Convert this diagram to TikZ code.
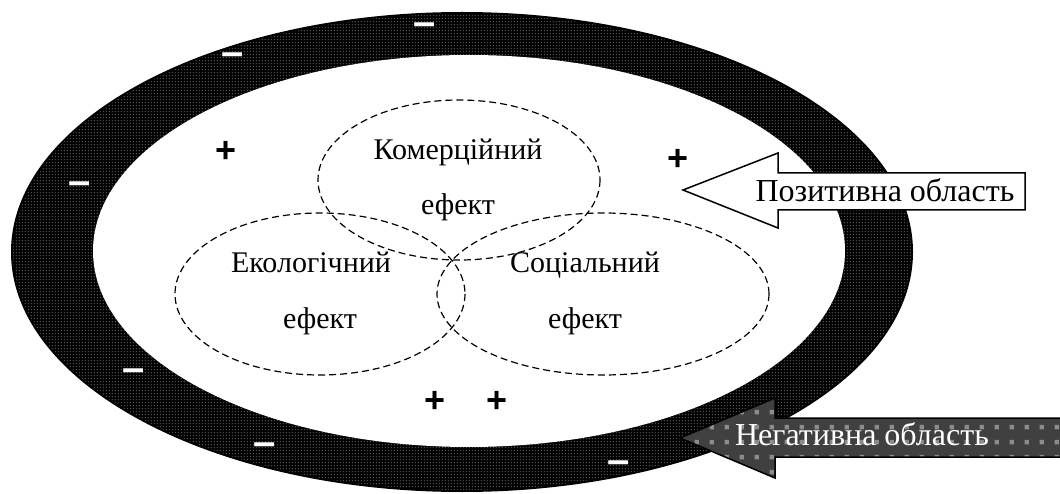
\documentclass[tikz,border=0pt]{standalone}
\usepackage{fontspec}
\setmainfont{Liberation Serif}
\newfontfamily\sansf{Liberation Sans}
\usetikzlibrary{patterns,patterns.meta}
\tikzdeclarepattern{name=sqdots,
  bottom left={(0pt,0pt)}, top right={(15pt,15pt)},
  tile size={(15pt,15pt)},
  code={\fill (5pt,5pt) rectangle (9.5pt,9.5pt);}}
\tikzdeclarepattern{name=finedots,
  bottom left={(0pt,0pt)}, top right={(3pt,3pt)},
  tile size={(3pt,3pt)},
  code={\fill (1pt,1pt) rectangle (2pt,2pt);}}
\definecolor{negfill}{HTML}{404040}
\definecolor{negdot}{HTML}{8C8C8C}
\begin{document}
\begin{tikzpicture}[x=1pt,y=-1pt,
  lbl/.style={font=\fontsize{30}{36}\selectfont, inner sep=0pt, anchor=base},
  arrowlbl/.style={font=\fontsize{32}{38}\selectfont, inner sep=0pt, anchor=base},
  effect/.style={draw, dash pattern=on 7pt off 4pt, line width=1.2pt},
  plussign/.style={font=\sansf\bfseries\fontsize{36}{36}\selectfont, inner sep=0pt},
  minussign/.style={font=\sansf\bfseries\fontsize{40}{40}\selectfont, text=white, inner sep=0pt},
  arrowshape/.style={line width=1.5pt, line join=miter}]
\useasboundingbox (0,0) rectangle (1060,494);
% outer negative band
\fill[black] (462,252) ellipse [x radius=451, y radius=240];
\fill[pattern=finedots, pattern color=gray!55] (462,252) ellipse [x radius=449, y radius=238];
\fill[white] (469,251) ellipse [x radius=376, y radius=196];
% effect ellipses
\draw[effect] (459,180) ellipse [x radius=141, y radius=80];
\draw[effect] (320,294) ellipse [x radius=145, y radius=81];
\draw[effect] (603,294) ellipse [x radius=166, y radius=81];
% labels
\node[lbl] (comA) at (458,160) {Комерційний};
\node[lbl] (comB) at (458,215) {ефект};
\node[lbl] (ecoA) at (311,273) {Екологічний};
\node[lbl] (ecoB) at (320,328) {ефект};
\node[lbl] (socA) at (585,273) {Соціальний};
\node[lbl] (socB) at (585,328) {ефект};
% plus signs
\node[plussign] (p1) at (226,152) {+};
\node[plussign] (p2) at (678,160) {+};
\node[plussign] (p3) at (435,402) {+};
\node[plussign] (p4) at (497,402) {+};
% minus signs
\node[minussign] (m1) at (425,29) {–};
\node[minussign] (m2) at (233,59) {–};
\node[minussign] (m3) at (80,188) {–};
\node[minussign] (m4) at (134,375) {–};
\node[minussign] (m5) at (265,449) {–};
\node[minussign] (m6) at (619,467) {–};
% positive arrow
\draw[arrowshape, fill=white] (683,190) -- (778,153) -- (778,173) -- (1025,173) -- (1025,210) -- (778,210) -- (778,228) -- cycle;
\node[arrowlbl] (pos) at (885,202) {Позитивна область};
% negative arrow
\fill[negfill] (680,438) -- (775,398) -- (775,418) -- (1062,418) -- (1062,457) -- (775,457) -- (775,478) -- cycle;
\fill[pattern=sqdots, pattern color=negdot] (680,438) -- (775,398) -- (775,418) -- (1062,418) -- (1062,457) -- (775,457) -- (775,478) -- cycle;
\draw[arrowshape] (680,438) -- (775,398) -- (775,418) -- (1062,418) -- (1062,457) -- (775,457) -- (775,478) -- cycle;
\node[arrowlbl, text=white] (neg) at (862,445) {Негативна область};
\end{tikzpicture}
\end{document}
